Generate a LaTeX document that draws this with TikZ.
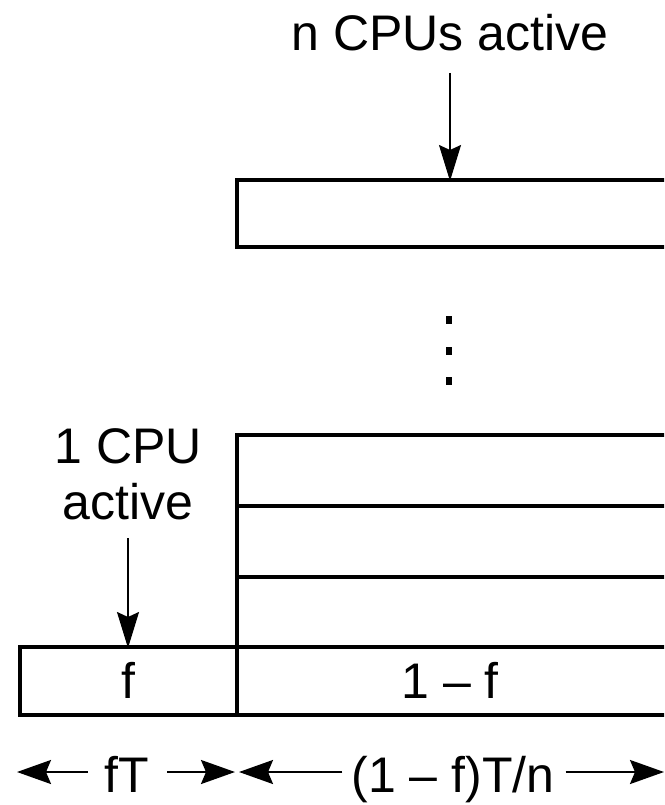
\documentclass[tikz,border=0pt]{standalone}
\usepackage{fontspec}
\setmainfont{Liberation Sans}
\usetikzlibrary{arrows.meta}
\begin{document}
\begin{tikzpicture}[x=1pt,y=-1pt,
  box/.style={line width=3.2pt},
  lbl/.style={font=\fontsize{50}{60}\selectfont, inner sep=0pt, anchor=base},
  ptr/.style={line width=1.6pt, -{Stealth[length=36pt,width=22pt,inset=5pt]}},
  dim/.style={line width=2.2pt, -{Stealth[length=34pt,width=24pt,inset=5pt]}},
  dot/.style={fill=black, minimum width=6pt, minimum height=8pt, inner sep=0pt}]
\useasboundingbox (0,0) rectangle (664,805);
\clip (0,0) rectangle (664,805);
% boxes
\draw[box] (680,180) -- (237,180) -- (237,247) -- (680,247);
\draw[box] (680,435) -- (237,435) -- (237,647);
\draw[box] (237,506) -- (680,506);
\draw[box] (237,577) -- (680,577);
\draw[box] (680,647) -- (20,647) -- (20,715) -- (680,715);
\draw[box] (237,647) -- (237,715);
% dots
\node[dot] (d1) at (449,320) {};
\node[dot] (d2) at (449,351) {};
\node[dot] (d3) at (449,381) {};
% labels
\node[lbl] (ncpu) at (450,51) {n CPUs active};
\node[lbl] (onecpu) at (128,463) {1 CPU};
\node[lbl] (act) at (128,519) {active};
\node[lbl] (f) at (128,698) {f};
\node[lbl] (onef) at (450,698) {1 – f};
\node[lbl] (fT) at (127,792) {fT};
\node[lbl] (rest) at (453,792) {(1 – f)T/n};
% pointer arrows
\coordinate (ntop) at (450,181);
\coordinate (ftop) at (128,648);
\draw[ptr] (450,73) -- (ntop);
\draw[ptr] (128,538) -- (ftop);
% dimension arrows
\coordinate (L) at (17,772);
\coordinate (M1) at (235,772);
\coordinate (M2) at (239,772);
\coordinate (R) at (664,772);
\draw[dim] (fT.west |- L) ++(-17,0) -- (L);
\draw[dim] (fT.east |- L) ++(18,0) -- (M1);
\draw[dim] (rest.west |- L) ++(-9,0) -- (M2);
\draw[dim] (rest.east |- L) ++(11,0) -- (R);
\end{tikzpicture}
\end{document}
